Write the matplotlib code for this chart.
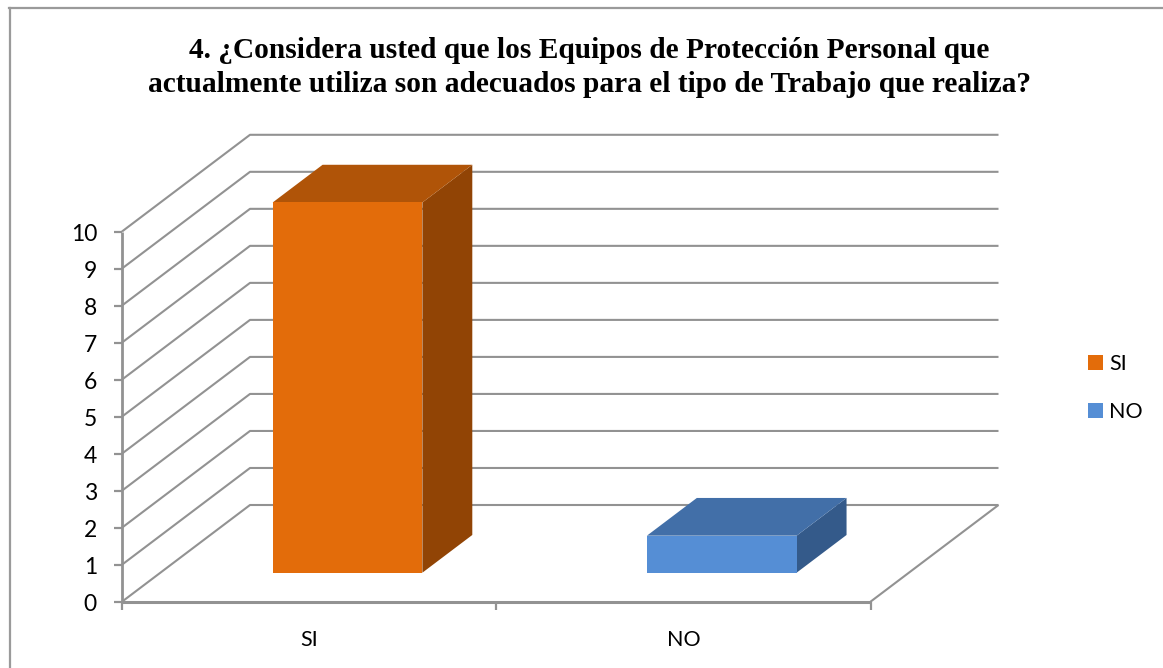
import matplotlib
matplotlib.use("Agg")
import matplotlib.pyplot as plt
from matplotlib.patches import Polygon, Rectangle

categories = ["SI", "NO"]
values = [10, 1]
colors = ["#E36C0A", "#558ED5"]
top_colors = ["#B05408", "#426FA8"]
side_colors = ["#914405", "#345A8A"]
y_ticks = list(range(0, 11))
title_lines = ["4. ¿Considera usted que los Equipos de Protección Personal que",
               "actualmente utiliza son adecuados para el tipo de Trabajo que realiza?"]

W, H = 1163, 668
GRID = "#929292"
LABEL_FONT = "Lato"

fig = plt.figure(figsize=(W / 100, H / 100), dpi=100, facecolor="white")

# axes covers the front plane of the fake 3D box, y in value units, x in category units
left, right, y0, y10 = 122, 870.5, 601.7, 231.5
ax = fig.add_axes([left / W, 1 - y0 / H, (right - left) / W, (y0 - y10) / H])
ax.set_xlim(0, 2)
ax.set_ylim(0, 10)
ax.axis("off")

# depth of the box in data units (128 px across, 96.7 px up)
unit_x = 2 / (right - left)
unit_y = 10 / (y0 - y10)
dx = 128 * unit_x
dy = 96.7 * unit_y


def project(x, y, z):
    return (x + z * dx, y + z * dy)


def line(pts, lw=1.5, color=GRID):
    xs = [p[0] for p in pts]
    ys = [p[1] for p in pts]
    ax.plot(xs, ys, color=color, lw=lw, clip_on=False, solid_capstyle="butt", zorder=2)


# walls and floor
for t in y_ticks:
    line([project(0, t, 0), project(0, t, 1), project(2, t, 1)])
line([project(2, 0, 0), project(2, 0, 1)])

# front axes
line([(0, 0), (0, 10)], lw=2)
line([(0, 0), (2, 0)], lw=2.2)
tick_x = 8 * unit_x
tick_y = 8 * unit_y
for t in y_ticks:
    line([(-tick_x, t), (0, t)], lw=1.6)
    ax.text(-25 * unit_x, t - 0.08, str(t), ha="right", va="center", fontsize=16.5,
            family=LABEL_FONT, color="black")
for x in range(3):
    line([(x, 0), (x, -tick_y)], lw=1.6)

# bars, front face sits 0.3 into the box and they are 0.39 deep
z_front = 0.3
depth = 0.39
bar_w = 0.4
for i, (cat, val) in enumerate(zip(categories, values)):
    c = i + 0.5
    x0, x1 = c - bar_w / 2, c + bar_w / 2
    zb = z_front + depth
    ax.add_patch(Polygon([project(x1, 0, z_front), project(x1, 0, zb),
                          project(x1, val, zb), project(x1, val, z_front)],
                         fc=side_colors[i], ec="none", zorder=3, clip_on=False))
    ax.add_patch(Polygon([project(x0, val, z_front), project(x0, val, zb),
                          project(x1, val, zb), project(x1, val, z_front)],
                         fc=top_colors[i], ec="none", zorder=3, clip_on=False))
    ax.add_patch(Polygon([project(x0, 0, z_front), project(x1, 0, z_front),
                          project(x1, val, z_front), project(x0, val, z_front)],
                         fc=colors[i], ec="none", zorder=4, clip_on=False))
    ax.text(c, -38 * unit_y, cat, ha="center", va="center", fontsize=15.5,
            family=LABEL_FONT, color="black")

# chart frame, only left and top edges are visible in the crop
fig.add_artist(plt.Line2D([9.5 / W, 9.5 / W], [0, 1 - 8 / H], color="#9A9A9A", lw=1.6))
fig.add_artist(plt.Line2D([9 / W, 1], [1 - 8 / H, 1 - 8 / H], color="#9A9A9A", lw=1.6))

for yp, txt in zip([50, 85], title_lines):
    fig.text(589.5 / W, 1 - yp / H, txt, ha="center", va="center", fontsize=21.2,
             family="Liberation Serif", fontweight="bold", color="black")

# legend
for i, (cat, col) in enumerate(zip(categories, colors)):
    yp = 362.5 + i * 48
    fig.add_artist(Rectangle((1088 / W, 1 - (yp + 7.5) / H), 15 / W, 15 / H,
                             transform=fig.transFigure, fc=col, ec="none"))
    fig.text(1109 / W, 1 - (yp + 1) / H, cat, ha="left", va="center", fontsize=15.5,
             family=LABEL_FONT, color="black")

fig.savefig("out.png", dpi=100)
